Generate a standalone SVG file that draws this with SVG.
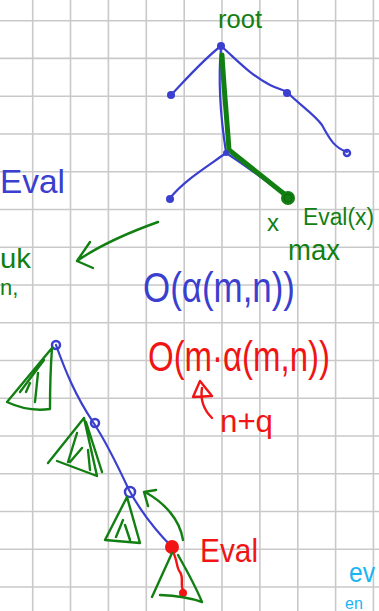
<svg xmlns="http://www.w3.org/2000/svg" width="379" height="611" viewBox="0 0 379 611">
<style>
.grid line{stroke:#c9c9c9;stroke-width:1.6}
.b{fill:none;stroke:#3a3fcf;stroke-width:2.2;stroke-linecap:round;stroke-linejoin:round}
.g{fill:none;stroke:#127f12;stroke-width:2.4;stroke-linecap:round;stroke-linejoin:round}
.gt{fill:none;stroke:#127f12;stroke-width:5;stroke-linecap:round;stroke-linejoin:round}
.r{fill:none;stroke:#f01414;stroke-width:2.4;stroke-linecap:round;stroke-linejoin:round}
.t{font-family:"Liberation Sans","DejaVu Sans",sans-serif}
.tb{fill:#3a3fcf}.tg{fill:#127f12}.tr{fill:#f01414}.tc{fill:#1ab4f2}
</style>
<rect width="379" height="611" fill="#ffffff"/>
<g class="grid">
<line x1="32.7" y1="0" x2="32.7" y2="611"/><line x1="70.5" y1="0" x2="70.5" y2="611"/><line x1="108.4" y1="0" x2="108.4" y2="611"/><line x1="146.3" y1="0" x2="146.3" y2="611"/><line x1="184.2" y1="0" x2="184.2" y2="611"/><line x1="222" y1="0" x2="222" y2="611"/><line x1="259.9" y1="0" x2="259.9" y2="611"/><line x1="297.8" y1="0" x2="297.8" y2="611"/><line x1="335.6" y1="0" x2="335.6" y2="611"/><line x1="373.4" y1="0" x2="373.4" y2="611"/>
<line x1="0" y1="20.7" x2="379" y2="20.7"/><line x1="0" y1="58.4" x2="379" y2="58.4"/><line x1="0" y1="96.2" x2="379" y2="96.2"/><line x1="0" y1="134" x2="379" y2="134"/><line x1="0" y1="171.7" x2="379" y2="171.7"/><line x1="0" y1="209.5" x2="379" y2="209.5"/><line x1="0" y1="247.2" x2="379" y2="247.2"/><line x1="0" y1="285" x2="379" y2="285"/><line x1="0" y1="322.7" x2="379" y2="322.7"/><line x1="0" y1="360.5" x2="379" y2="360.5"/><line x1="0" y1="398.2" x2="379" y2="398.2"/><line x1="0" y1="436" x2="379" y2="436"/><line x1="0" y1="473.7" x2="379" y2="473.7"/><line x1="0" y1="511.5" x2="379" y2="511.5"/><line x1="0" y1="549.2" x2="379" y2="549.2"/><line x1="0" y1="587" x2="379" y2="587"/>
</g>
<g id="connectors">
<path class="b" d="M221,46 C205,58 190,75 171,95"/>
<path class="b" d="M221,46 C235,58 250,75 270,85 C280,90 285,90 288,93"/>
<path class="b" d="M288,93 C300,105 315,115 322,125 C330,140 335,148 347,152"/>
<path class="b" d="M221,48 C218,80 221,120 226,152"/>
<path class="b" d="M226,153 C205,168 185,180 170,198"/>
<path class="b" d="M226,153 C245,165 265,180 287,197"/>
<path class="gt" d="M222,55 C224,90 227,120 229,150 L288,197"/>
<path class="g" d="M158,222 C130,232 100,245 77,261 M90,242 L77,261 L93,268"/>
<path class="r" d="M212,418 C204,410 200,400 202,388 M200,381 L193,397 L212,396 Z"/>
<path class="b" d="M56,345 C65,370 75,395 93,422 C105,440 115,460 129,490 C140,510 155,530 172,547"/>
<path class="g" d="M183,540 C180,520 165,503 145,492 M144,492 L156,490 M144,492 L148,506"/>
<path class="r" d="M172,550 C178,560 176,568 180,572 C184,578 180,585 183,590"/>
</g>
<g id="root"><circle cx="221" cy="46" r="4" fill="#3a3fcf"/><text class="t tg" x="218" y="28" font-size="26" textLength="44" lengthAdjust="spacingAndGlyphs">root</text></g>
<g id="n-left"><circle cx="171" cy="95" r="4" fill="#3a3fcf"/></g>
<g id="n-right"><circle cx="287" cy="93" r="4" fill="#3a3fcf"/></g>
<g id="n-leaf"><circle cx="347" cy="153" r="3" fill="none" stroke="#3a3fcf" stroke-width="2.5"/></g>
<g id="n-mid"><circle cx="226" cy="153" r="3" fill="#3a3fcf"/></g>
<g id="n-midleft"><circle cx="170" cy="199" r="4" fill="#3a3fcf"/></g>
<g id="n-x"><circle cx="288" cy="198" r="7" fill="#127f12"/><circle cx="288" cy="198" r="4" fill="none" stroke="#0c6a0c" stroke-width="1"/>
<text class="t tg" x="267" y="231" font-size="24">x</text>
<text class="t tg" x="303" y="225" font-size="23" textLength="71" lengthAdjust="spacingAndGlyphs">Eval(x)</text>
<text class="t tg" x="288" y="260" font-size="30" textLength="52" lengthAdjust="spacingAndGlyphs">max</text></g>
<g id="notes">
<text class="t tb" x="0" y="193" font-size="34" textLength="65" lengthAdjust="spacingAndGlyphs">Eval</text>
<text class="t tg" x="0" y="268" font-size="28" textLength="31" lengthAdjust="spacingAndGlyphs">uk</text>
<text class="t tg" x="0" y="295" font-size="22">n,</text>
<text class="t tb" x="143" y="302" font-size="42" textLength="152" lengthAdjust="spacingAndGlyphs">O(α(m,n))</text>
<text class="t tr" x="148" y="371" font-size="42" textLength="182" lengthAdjust="spacingAndGlyphs">O(m·α(m,n))</text>
<text class="t tr" x="220" y="432" font-size="32" textLength="53" lengthAdjust="spacingAndGlyphs">n+q</text>
<text class="t tr" x="200" y="562" font-size="34" textLength="58" lengthAdjust="spacingAndGlyphs">Eval</text>
<text class="t tc" x="349" y="582" font-size="28" textLength="26" lengthAdjust="spacingAndGlyphs">ev</text>
<text class="t tc" x="345" y="609" font-size="16">en</text>
</g>
<g id="sub1"><circle cx="56" cy="345" r="4" fill="none" stroke="#3a3fcf" stroke-width="2.5"/>
<path class="g" d="M52,348 L7,402 Q28,412 50,409 Q50,375 52,348 M44,360 L20,392 M38,373 L35,402 M30,383 L26,392"/></g>
<g id="sub2"><circle cx="95" cy="423" r="4" fill="none" stroke="#3a3fcf" stroke-width="2.5"/>
<path class="g" d="M84,418 L48,463 M57,461 L97,476 L84,418 M86,422 L102,472 M77,433 L68,462 M82,448 L70,462 M88,450 L90,470"/></g>
<g id="sub3"><circle cx="130" cy="492" r="5" fill="none" stroke="#3a3fcf" stroke-width="2.5"/>
<path class="g" d="M127,497 L105,540 L140,543 L127,497 M123,520 L116,537 M125,525 L130,540"/></g>
<g id="sub4"><circle cx="172" cy="547" r="7" fill="#f01414"/><circle cx="183" cy="593" r="4" fill="#f01414"/>
<path class="g" d="M172,553 L152,597 M160,595 Q185,596 202,602 M178,555 Q195,585 202,602"/></g>
</svg>
